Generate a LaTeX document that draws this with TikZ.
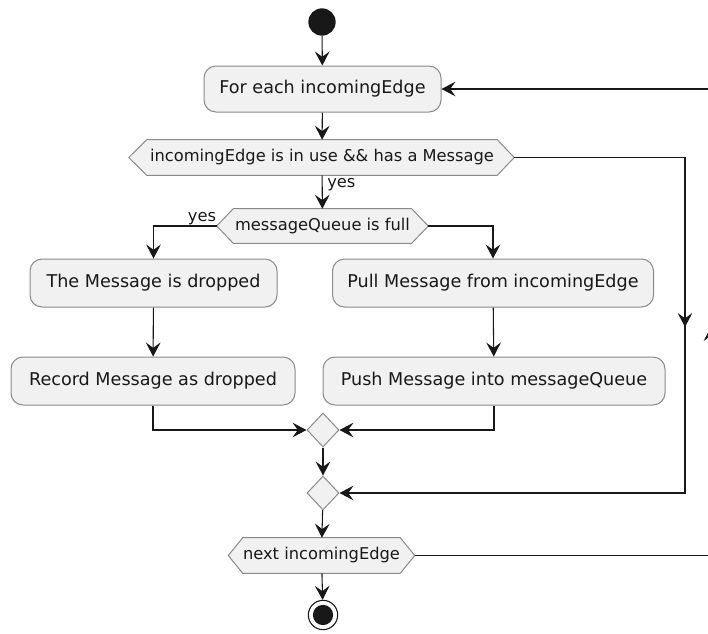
\documentclass[tikz,border=0pt]{standalone}
\usepackage{fontspec}
\setmainfont{DejaVu Sans}
\usetikzlibrary{arrows.meta,backgrounds,shapes.geometric}
\definecolor{boxfill}{HTML}{F1F1F1}
\definecolor{ln}{HTML}{181818}
\definecolor{bd}{HTML}{8A8A8A}
\begin{document}
\begin{tikzpicture}[x=0.75pt,y=-0.75pt,
  act/.style={rounded corners=9pt, draw=bd, fill=boxfill, line width=0.75pt,
    minimum height=36pt, inner sep=0pt, font=\fontsize{13.2}{15}\selectfont, text=ln},
  hexlbl/.style={inner sep=0pt, font=\fontsize{12.2}{14}\selectfont, text=ln},
  hexshape/.style={draw=bd, fill=boxfill, line width=0.75pt},
  merge/.style={diamond, draw=bd, fill=boxfill, minimum width=24pt,
    minimum height=25.5pt, inner sep=0pt, line width=0.75pt},
  flow/.style={draw=ln, line width=0.8pt, -{Stealth[length=10.5pt,width=11pt,inset=4pt]}},
  lbl/.style={font=\fontsize{12.2}{14}\selectfont, inner sep=0pt, text=ln}
]
\useasboundingbox (0,0) rectangle (708,633);
\clip (0,0) rectangle (708,633);

% nodes
\node[circle, fill=ln, minimum size=20.5pt, inner sep=0pt] (start) at (322,22) {};
\node[act, minimum width=177.75pt, minimum height=34.5pt] (for) at (322.5,89) {For each incomingEdge};
\node[hexlbl, minimum width=262.5pt, minimum height=26.25pt] (d1) at (322,157.5) {incomingEdge is in use \&\& has a Message};
\path (d1.west) ++(-18,0) coordinate (d1w);
\path (d1.east) ++(17,0) coordinate (d1e);
\node[hexlbl, minimum width=133.5pt, minimum height=25.5pt] (d2) at (322.5,226) {messageQueue is full};
\path (d2.west) ++(-16.5,0) coordinate (d2w);
\path (d2.east) ++(16.5,0) coordinate (d2e);
\node[act, minimum width=185.25pt] (drop) at (153.5,283) {The Message is dropped};
\node[act, minimum width=240.75pt] (pull) at (493,283) {Pull Message from incomingEdge};
\node[act, minimum width=213pt] (record) at (153,381) {Record Message as dropped};
\node[act, minimum width=256.5pt] (push) at (494,381) {Push Message into messageQueue};
\node[merge] (m1) at (323,430) {};
\node[merge] (m2) at (323,493) {};
\node[hexlbl, minimum width=117.75pt, minimum height=26.25pt] (d3) at (321.5,555.5) {next incomingEdge};
\path (d3.west) ++(-14.5,0) coordinate (d3w);
\path (d3.east) ++(14.5,0) coordinate (d3e);
\node[circle, draw=ln, fill=white, line width=0.8pt, minimum size=22pt, inner sep=0pt] (end) at (323,615) {};
\fill[ln] (end.center) circle (7.6pt);

% hexagon outlines behind the labels
\begin{scope}[on background layer]
\draw[hexshape] (d1.north west) -- (d1.north east) -- (d1e) -- (d1.south east) -- (d1.south west) -- (d1w) -- cycle;
\draw[hexshape] (d2.north west) -- (d2.north east) -- (d2e) -- (d2.south east) -- (d2.south west) -- (d2w) -- cycle;
\draw[hexshape] (d3.north west) -- (d3.north east) -- (d3e) -- (d3.south east) -- (d3.south west) -- (d3w) -- cycle;
\end{scope}

% labels
\node[lbl, anchor=west] (y1) at (327,185) {yes};
\node[lbl] (y2) at (202,219) {yes};

% routing coordinates
\coordinate (r1) at (685,157.5);
\coordinate (r2) at (685,327);
\coordinate (r3) at (685,493);
\coordinate (l1) at (711,555.5);
\coordinate (l2) at (711,327);
\coordinate (l3) at (711,89);

% connectors
\draw[flow] (start) -- (for);
\draw[flow] (for) -- (d1);
\draw[flow] (d1) -- (d2);
\draw[flow] (d2w) -| (drop.north);
\draw[flow] (d2e) -| (pull.north);
\draw[flow] (drop) -- (record);
\draw[flow] (pull) -- (push);
\draw[flow] (record.south) |- (m1.west);
\draw[flow] (push.south) |- (m1.east);
\draw[flow] (m1) -- (m2);
\draw[flow] (d1e) -- (r1) -- (r3) -- (m2.east);
\draw[flow] (r1) -- (r2);
\draw[flow] (m2) -- (d3);
\draw[flow] (d3) -- (end);
\draw[flow] (d3e) -- (l1) -- (l3) -- (for.east);
\draw[flow] (l1) -- (l2);
\end{tikzpicture}
\end{document}
